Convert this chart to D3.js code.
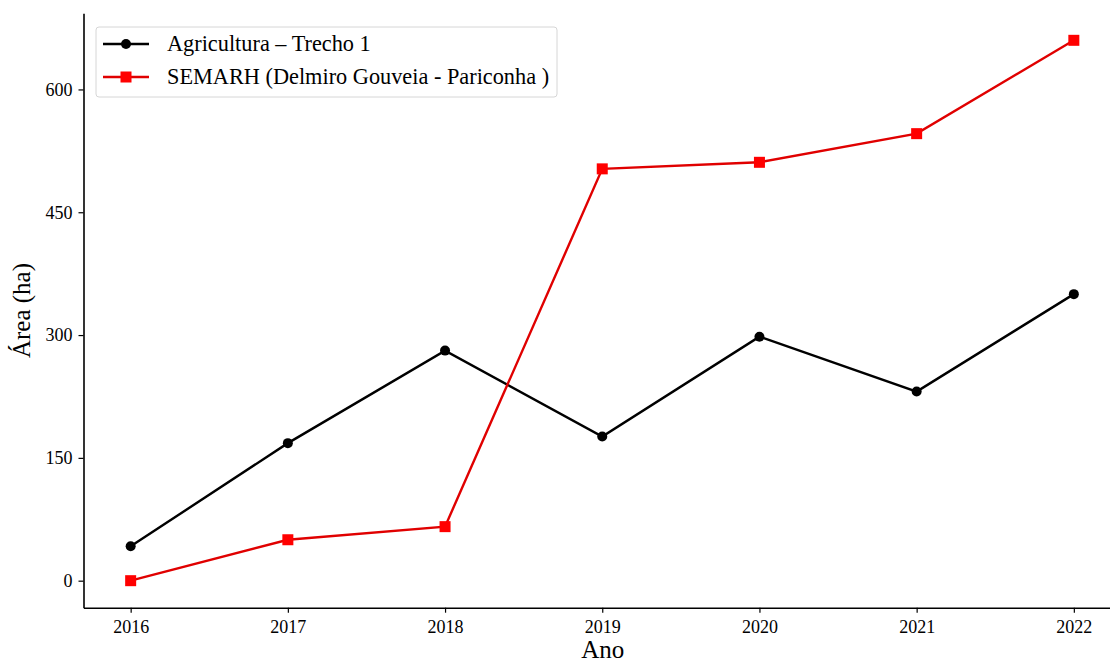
<!DOCTYPE html>
<html>
<head>
<meta charset="utf-8">
<script src="https://cdn.jsdelivr.net/npm/d3@7"></script>
<style>
html,body{margin:0;padding:0;background:#fff;}
svg{display:block;}
svg text{font-family:"Liberation Serif","Times New Roman",serif !important;fill:#000;}
</style>
</head>
<body>
<svg id="chart" width="1110" height="662"></svg>
<script>
const years = [2016, 2017, 2018, 2019, 2020, 2021, 2022];
const agricultura = [42, 168, 281, 176, 298, 231, 350];
const semarh = [0, 50, 66, 503, 511, 546, 660];
const yTicks = [0, 150, 300, 450, 600];
const seriesNames = ["Agricultura – Trecho 1", "SEMARH (Delmiro Gouveia - Pariconha )"];

(function () {
const FONT = "Liberation Serif";
const svg = d3.select("#chart");
const mLeft = 83.5, mRight = 1121, mTop = 13.3, mBottom = 607.7;

const x = d3.scaleLinear().domain([2015.7, 2022.3]).range([mLeft, mRight]);
const y = d3.scaleLinear().domain([-33, 693]).range([mBottom, mTop]);

// axes
const xAxis = d3.axisBottom(x).tickValues(years).tickFormat(d3.format("d")).tickSize(5).tickSizeOuter(0).tickPadding(8);
const yAxis = d3.axisLeft(y).tickValues(yTicks).tickSize(5).tickSizeOuter(0).tickPadding(6);

const gx = svg.append("g").attr("transform", `translate(0,${mBottom})`).call(xAxis);
const gy = svg.append("g").attr("transform", `translate(${mLeft},0)`).call(yAxis);
[gx, gy].forEach(g => {
  g.attr("font-family", FONT).attr("font-size", 18);
  g.select(".domain").attr("stroke", "#000").attr("stroke-width", 1.6);
  g.selectAll(".tick line").attr("stroke", "#000").attr("stroke-width", 1.2);
  g.selectAll(".tick text").attr("font-family", FONT).attr("font-size", 18).attr("fill", "#000");
});

// axis labels
svg.append("text").attr("x", (mLeft + 1110) / 2 + 6).attr("y", 658).attr("text-anchor", "middle")
  .attr("font-family", FONT).attr("font-size", 25).text("Ano");
svg.append("text").attr("transform", `translate(30,${(mTop + mBottom) / 2}) rotate(-90)`).attr("text-anchor", "middle")
  .attr("font-family", FONT).attr("font-size", 25).text("Área (ha)");

const line = d3.line().x((d, i) => x(years[i])).y(d => y(d));

// black series
svg.append("path").datum(agricultura).attr("d", line).attr("fill", "none").attr("stroke", "#000").attr("stroke-width", 2.4);
svg.selectAll("circle.agri").data(agricultura).enter().append("circle").attr("class", "agri")
  .attr("cx", (d, i) => x(years[i])).attr("cy", d => y(d)).attr("r", 5).attr("fill", "#000");

// red series
svg.append("path").datum(semarh).attr("d", line).attr("fill", "none").attr("stroke", "#e00000").attr("stroke-width", 2.4);
svg.selectAll("rect.sem").data(semarh).enter().append("rect").attr("class", "sem")
  .attr("x", (d, i) => x(years[i]) - 5.5).attr("y", d => y(d) - 5.5).attr("width", 11).attr("height", 11).attr("fill", "#f00");

// legend
const lg = svg.append("g");
lg.append("rect").attr("x", 96).attr("y", 27).attr("width", 461).attr("height", 70).attr("rx", 3)
  .attr("fill", "#fff").attr("fill-opacity", 0.8).attr("stroke", "#d6d6d6").attr("stroke-width", 1);
const ly = [44, 77];
lg.append("line").attr("x1", 103).attr("x2", 149).attr("y1", ly[0]).attr("y2", ly[0]).attr("stroke", "#000").attr("stroke-width", 2.4);
lg.append("circle").attr("cx", 126).attr("cy", ly[0]).attr("r", 5).attr("fill", "#000");
lg.append("line").attr("x1", 103).attr("x2", 149).attr("y1", ly[1]).attr("y2", ly[1]).attr("stroke", "#e00000").attr("stroke-width", 2.4);
lg.append("rect").attr("x", 120.5).attr("y", ly[1] - 5.5).attr("width", 11).attr("height", 11).attr("fill", "#f00");
seriesNames.forEach((n, i) => {
  lg.append("text").attr("x", 167).attr("y", ly[i] + 7).attr("font-family", FONT).attr("font-size", 22.3).text(n);
});
})();
</script>
</body>
</html>
